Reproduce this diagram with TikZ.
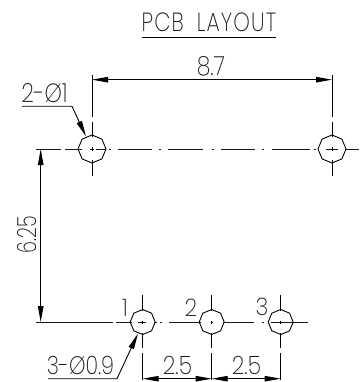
\documentclass[tikz,border=0pt]{standalone}
\usepackage{fontspec}
\usepackage{graphicx}
\setmainfont{Poppins ExtraLight}
\usetikzlibrary{arrows.meta,shapes.geometric,calc}
\tikzset{
  x=1pt,y=-1pt,
  line/.style={line width=0.9pt,black},
  thin line/.style={line width=0.8pt,black!90},
  hole/.style={regular polygon,regular polygon sides=8,shape border rotate=22.5,draw,line width=0.9pt,inner sep=0pt,minimum size=#1},
  dimb/.style={line,{Triangle[length=16pt,width=5.5pt]}-{Triangle[length=16pt,width=5.5pt]}},
  txt/.style={inner sep=0pt,font=\fontsize{22}{22}\selectfont,text=black!90},
}
\begin{document}
\begin{tikzpicture}
\useasboundingbox (0,0) rectangle (360,382);
% center lines
\foreach \a/\b in {36/61,65/82,90/94,96/106,109/111,118/152,159/161,168/203,212/214,221/255,262/264,272/310,314/316,326/338,346/359}
  \draw[thin line] (\a,149) -- (\b,149);
\foreach \a/\b in {36/113,116/132,138/146,154/157,160/162,169/201,210.5/213,223/254,262/264,271/308}
  \draw[thin line] (\a,322) -- (\b,322);
% holes
\node[hole=28pt] (h1) at (92,149) {};
\node[hole=28pt] (h2) at (332,149) {};
\node[hole=25pt] (p1) at (142.7,322) {};
\node[hole=25pt] (p2) at (211.7,322) {};
\node[hole=25pt] (p3) at (280.7,322) {};
% vertical centre lines and extensions
\foreach \x in {92,332}{
  \draw[line] (\x,75) -- (\x,117);
  \draw[line] (\x,122) -- (\x,137);
  \draw[line] (\x,147.5) -- (\x,150.5);
  \draw[line] (\x,160) -- (\x,176);
}
\foreach \x in {142.7,211.7,280.7}{
  \draw[line] (\x,295) -- (\x,311);
  \draw[line] (\x,320.5) -- (\x,323.5);
  \draw[line] (\x,333) -- (\x,348);
  \draw[line] (\x,353) -- (\x,379.5);
}
% dimensions
\coordinate (d1) at (92,79.7); \coordinate (d2) at (332,79.7);
\draw[dimb] (d1) -- (d2);
\coordinate (v1) at (40.7,149); \coordinate (v2) at (40.7,322);
\draw[dimb] (v1) -- (v2);
\coordinate (b1) at (142.7,378.7); \coordinate (b2) at (211.7,378.7); \coordinate (b3) at (280.7,378.7);
\draw[dimb] (b1) -- (b2);
\draw[dimb] (b2) -- (b3);
% leaders
\coordinate (l1) at (22,106.3); \coordinate (l1k) at (72,106.3); \coordinate (l1t) at (86,136.5);
\draw[line,-{Triangle[length=16pt,width=5.5pt]}] (l1) -- (l1k) -- (l1t);
\coordinate (l2) at (48,378.7); \coordinate (l2k) at (117,378.7); \coordinate (l2t) at (138,333.5);
\draw[line,-{Triangle[length=16pt,width=5.5pt]}] (l2) -- (l2k) -- (l2t);
% title
\coordinate (u1) at (142,37); \coordinate (u2) at (276,37);
\draw[line] (u1) -- (u2);
\node[txt,font=\fontsize{21}{21}\selectfont] (title) at (209,22.5) {\scalebox{1}[1.25]{\addfontfeature{LetterSpace=5.5}PCB\hspace{6pt} LAYOUT}};
\node[txt] (t87) at (211,66) {\scalebox{1}[1.2]{8.7}};
\node[txt] (t2) at (44.5,93) {\scalebox{1}[1.2]{2-Ø1}};
\node[txt,rotate=90] (t625) at (27.5,235) {\scalebox{.87}[1.2]{6.25}};
\node[txt] (n1) at (125,308) {\scalebox{1}[1.1]{1}};
\node[txt] (n2) at (191,308) {\scalebox{1}[1.1]{2}};
\node[txt] (n3) at (262,307) {\scalebox{1}[1.1]{3}};
\node[txt] (t3) at (80.5,365) {\scalebox{.95}[1.15]{3-Ø0.9}};
\node[txt] (d25a) at (177.5,365) {\scalebox{1}[1.15]{2.5}};
\node[txt] (d25b) at (246.5,365) {\scalebox{1}[1.15]{2.5}};
\end{tikzpicture}
\end{document}
